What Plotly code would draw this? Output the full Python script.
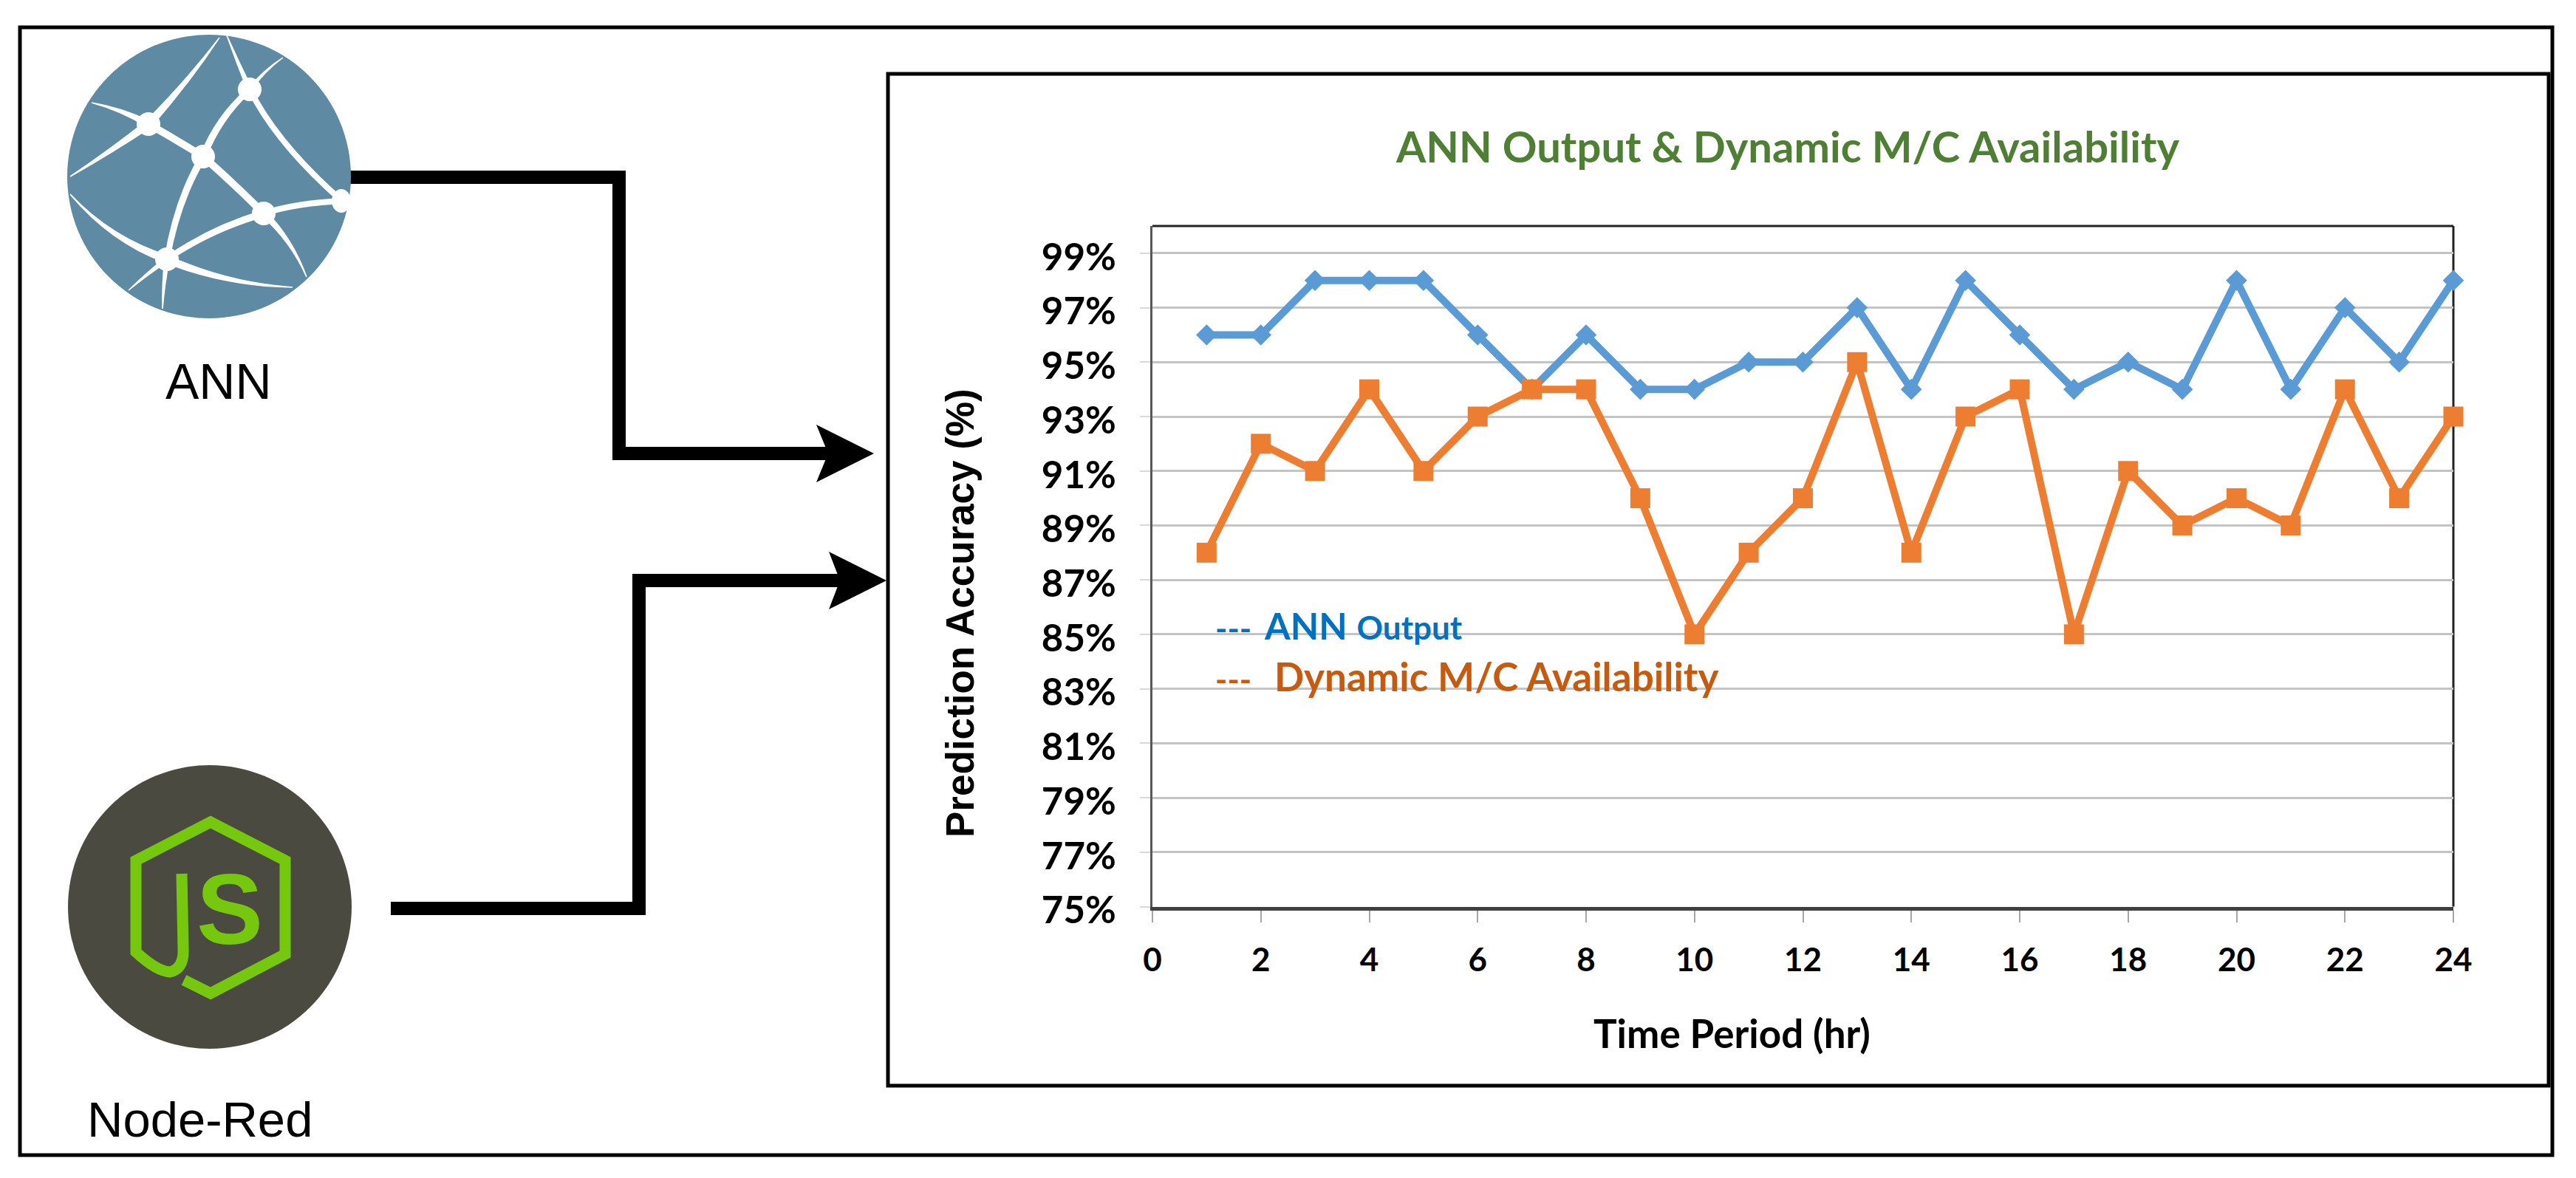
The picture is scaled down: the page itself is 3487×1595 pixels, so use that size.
import plotly.graph_objects as go

W, H = 3487, 1595

# ---------- data ----------
hours = list(range(1, 25))
ann_output = [96, 96, 98, 98, 98, 96, 94, 96, 94, 94, 95, 95, 97, 94, 98, 96, 94, 95, 94, 98, 94, 97, 95, 98]
mc_availability = [88, 92, 91, 94, 91, 93, 94, 94, 90, 85, 88, 90, 95, 88, 93, 94, 85, 91, 89, 90, 89, 94, 90, 93]
y_ticks = [75, 77, 79, 81, 83, 85, 87, 89, 91, 93, 95, 97, 99]
y_labels = ["75%", "77%", "79%", "81%", "83%", "85%", "87%", "89%", "91%", "93%", "95%", "97%", "99%"]
x_ticks = [0, 2, 4, 6, 8, 10, 12, 14, 16, 18, 20, 22, 24]
chart_title = "ANN Output & Dynamic M/C Availability"
x_title = "Time Period (hr)"
y_title = "Prediction Accuracy (%)"

BLUE, ORANGE = "#5b9bd5", "#ed7d31"
GRID = "#c4c4c4"
CHART_FONT = "Lato"


# ---------- pixel helpers for the diagram decoration ----------
def X(px):
    return px / W


def Y(py):
    return 1 - py / H


def P(x, y):
    return f"{X(x):.6f},{Y(y):.6f}"


shapes = []
annotations = []


def paper_path(d, fill=None, line=None, lw=0, layer="above"):
    shapes.append(dict(type="path", xref="paper", yref="paper", path=d, fillcolor=fill or "rgba(0,0,0,0)",
                       line=dict(color=line or "rgba(0,0,0,0)", width=lw), layer=layer))


def rect(x0, y0, x1, y1, lw=5):
    shapes.append(dict(type="rect", xref="paper", yref="paper", x0=X(x0), x1=X(x1), y0=Y(y0), y1=Y(y1),
                       line=dict(color="black", width=lw), fillcolor="rgba(0,0,0,0)", layer="below"))


def circle(cx, cy, rx, ry, fill):
    shapes.append(dict(type="circle", xref="paper", yref="paper", x0=X(cx - rx), x1=X(cx + rx),
                       y0=Y(cy + ry), y1=Y(cy - ry), fillcolor=fill, line=dict(width=0)))


def polyline(pts, lw=18):
    paper_path("M" + " L".join(P(*p) for p in pts), line="black", lw=lw)


def polygon(pts, fill="black"):
    paper_path("M" + " L".join(P(*p) for p in pts) + " Z", fill=fill)


def taper(p0, c, p1, w0, w1):
    """white tapered curved edge of the network icon"""
    dx, dy = p1[0] - p0[0], p1[1] - p0[1]
    n = (dx * dx + dy * dy) ** 0.5
    nx, ny = -dy / n, dx / n
    wm = (w0 + w1) / 2
    d = (f"M{P(p0[0] + nx * w0, p0[1] + ny * w0)} Q{P(c[0] + nx * wm, c[1] + ny * wm)} "
         f"{P(p1[0] + nx * w1, p1[1] + ny * w1)} L{P(p1[0] - nx * w1, p1[1] - ny * w1)} "
         f"Q{P(c[0] - nx * wm, c[1] - ny * wm)} {P(p0[0] - nx * w0, p0[1] - ny * w0)} Z")
    paper_path(d, fill="white")


def label(x, y, text, size, color="black", family="Liberation Sans", xanchor="center", yanchor="middle", angle=0):
    annotations.append(dict(xref="paper", yref="paper", x=X(x), y=Y(y), text=text, showarrow=False,
                            xanchor=xanchor, yanchor=yanchor, borderpad=0, textangle=angle,
                            font=dict(size=size, color=color, family=family)))


# frames
rect(27, 37, 3455, 1564, 5)
rect(1202, 100, 3450, 1470, 5)

# connectors and arrows
polyline([(470, 240), (838, 240), (838, 614), (1125, 614)])
polygon([(1183, 614), (1105, 575), (1121, 614), (1105, 653)])
polyline([(529, 1230), (865, 1230), (865, 786), (1140, 786)])
polygon([(1200, 786), (1122, 747), (1137, 786), (1122, 825)])

# ANN icon
circle(283, 239, 192, 192, "#5f8aa3")
N1, N2, N3, N4, N5, N6 = (338, 121), (201, 168), (275, 212), (357, 289), (226, 351), (463, 272)
for a, c, b, w0, w1 in [
    (N1, (322, 85), (307, 48), 4, 0.8), (N1, (358, 95), (383, 78), 3, 0.8),
    (N1, (295, 160), N3, 4, 5), (N1, (375, 195), N6, 4, 4),
    (N2, (255, 110), (297, 51), 6, 0.8), (N2, (165, 148), (124, 139), 5, 0.8),
    (N2, (150, 205), (95, 239), 6, 0.8), (N2, (240, 190), N3, 5, 5),
    (N3, (318, 250), N4, 5, 5), (N3, (240, 270), N5, 5, 4),
    (N4, (285, 310), N5, 5, 4), (N4, (400, 275), N6, 4, 4),
    (N4, (395, 325), (415, 375), 5, 0.8), (N5, (150, 325), (95, 263), 6, 0.8),
    (N5, (305, 385), (396, 389), 6, 0.8), (N5, (200, 370), (174, 393), 4, 0.8),
    (N5, (221, 385), (220, 418), 4, 0.8),
]:
    taper(a, c, b, w0, w1)
for (cx, cy), r in [(N1, 16), (N2, 16), (N3, 16), (N4, 16), (N5, 16)]:
    circle(cx, cy, r, r, "white")
circle(462, 272, 13, 16, "white")
label(296, 516, "ANN", 68)

# Node icon
circle(284, 1228, 192, 192, "#4a4a40")
GREEN = "#76c80e"
paper_path("M" + " L".join(P(*p) for p in [(249, 1327), (285, 1345), (386, 1292), (386, 1165), (285, 1113),
                                           (184, 1165), (184, 1289)])
           + f" Q{P(212, 1315)} {P(230, 1316)} Q{P(249, 1312)} {P(248, 1285)} L{P(246, 1183)}",
           line=GREEN, lw=15)
label(311, 1231, "<b>S</b>", 135, GREEN)
label(270, 1515, "Node-Red", 67)

# in-plot key written as text
label(1644, 850, "<b>---</b>", 44, "#0070c0", CHART_FONT, "left")
label(1710, 847, '<b>ANN</b> <span style="font-size:44px"><b>Output</b></span>', 50, "#0070c0", CHART_FONT, "left")
label(1644, 919, "<b>---</b>", 44, "#c55a11", CHART_FONT, "left")
label(1724, 915, "<b>Dynamic M/C Availability</b>", 53, "#c55a11", CHART_FONT, "left")

# axis titles sit off-centre in the reference
label(2344, 1398, f"<b>{x_title}</b>", 53, "black", CHART_FONT)
label(1299, 830, f"<b>{y_title}</b>", 53, "black", "Liberation Sans", angle=-90)

# plot frame top / right
for kw in (dict(x0=0, x1=1, y0=1, y1=1), dict(x0=1, x1=1, y0=0, y1=1)):
    shapes.append(dict(type="line", xref="x domain", yref="y domain", line=dict(color="#222222", width=3),
                       layer="below", **kw))

fig = go.Figure()
fig.add_trace(go.Scatter(x=hours, y=ann_output, mode="lines+markers", name="ANN Output", cliponaxis=False,
                         line=dict(color=BLUE, width=10), marker=dict(symbol="diamond", size=22, color=BLUE)))
fig.add_trace(go.Scatter(x=hours, y=mc_availability, mode="lines+markers", name="Dynamic M/C Availability",
                         cliponaxis=False, line=dict(color=ORANGE, width=10),
                         marker=dict(symbol="square", size=27, color=ORANGE)))

fig.update_layout(
    width=W, height=H, autosize=False, showlegend=False,
    margin=dict(l=0, r=0, t=0, b=0, pad=0),
    paper_bgcolor="white", plot_bgcolor="white",
    title=dict(text=f"<b>{chart_title}</b>", x=2420 / W, y=Y(200), xanchor="center", yanchor="middle",
               xref="paper", yref="paper", font=dict(size=58, color="#4f7f34", family=CHART_FONT)),
    xaxis=dict(domain=[X(1560), X(3321)], range=[0, 24], tickvals=x_ticks, ticktext=[str(v) for v in x_ticks],
               automargin=False,
               ticks="outside", ticklen=16, tickwidth=2, tickcolor="#a6a6a6", showgrid=False, zeroline=False,
               showline=True, linecolor="#404040", linewidth=5, ticklabelstandoff=14,
               tickfont=dict(size=44, family=CHART_FONT, color="black", weight="bold")),
    yaxis=dict(domain=[Y(1227.5), Y(306)], range=[75, 100], tickvals=y_ticks, ticktext=y_labels,
               automargin=False,
               ticks="outside", ticklen=14, tickwidth=2, tickcolor="#d9d9d9", showgrid=True, gridcolor=GRID,
               gridwidth=3, zeroline=False, showline=True, linecolor="#595959", linewidth=3, ticklabelstandoff=22,
               ticklabelshift=5,
               tickfont=dict(size=51, family=CHART_FONT, color="black", weight="bold")),
    shapes=shapes, annotations=annotations,
)
fig.write_html("out.html", config={"displayModeBar": False},
               post_script="document.body.style.margin='0';document.documentElement.style.overflow='hidden';")
